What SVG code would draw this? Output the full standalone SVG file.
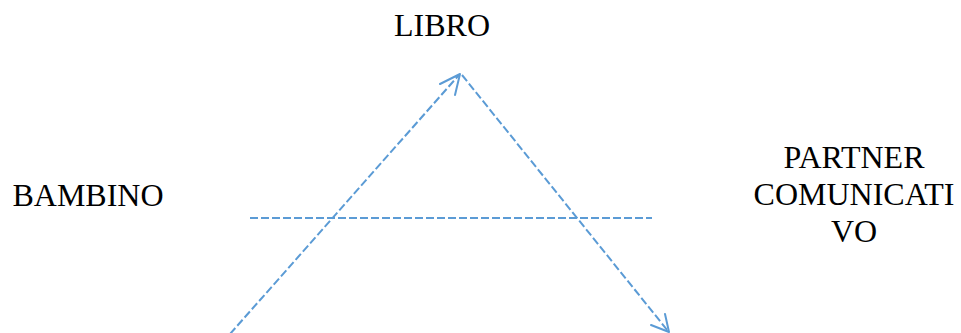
<svg xmlns="http://www.w3.org/2000/svg" width="961" height="333" viewBox="0 0 961 333">
<style>
.t{font-family:"Liberation Serif","Times New Roman",serif;font-size:32px;fill:#000;text-anchor:middle}
.c{stroke:#5B9BD5;stroke-width:2;fill:none;stroke-dasharray:8 3}
.h{stroke:#5B9BD5;stroke-width:2;fill:none;stroke-linecap:round;stroke-linejoin:round}
</style>
<rect width="961" height="333" fill="#fff"/>
<g id="libro"><text class="t" x="442" y="36">LIBRO</text></g>
<g id="bambino"><text class="t" x="88" y="206">BAMBINO</text></g>
<g id="partner"><text class="t" x="854" y="168">PARTNER</text><text class="t" x="854" y="205">COMUNICATI</text><text class="t" x="854" y="242">VO</text></g>
<g id="connectors">
<line class="c" x1="230" y1="334" x2="459" y2="75"/>
<path class="h" d="M440,84 L460,74 L455,95"/>
<line class="c" x1="462" y1="75" x2="668" y2="331"/>
<path class="h" d="M651,325 L669,332 L665,314"/>
<line class="c" x1="250" y1="218" x2="652" y2="218"/>
</g>
</svg>
